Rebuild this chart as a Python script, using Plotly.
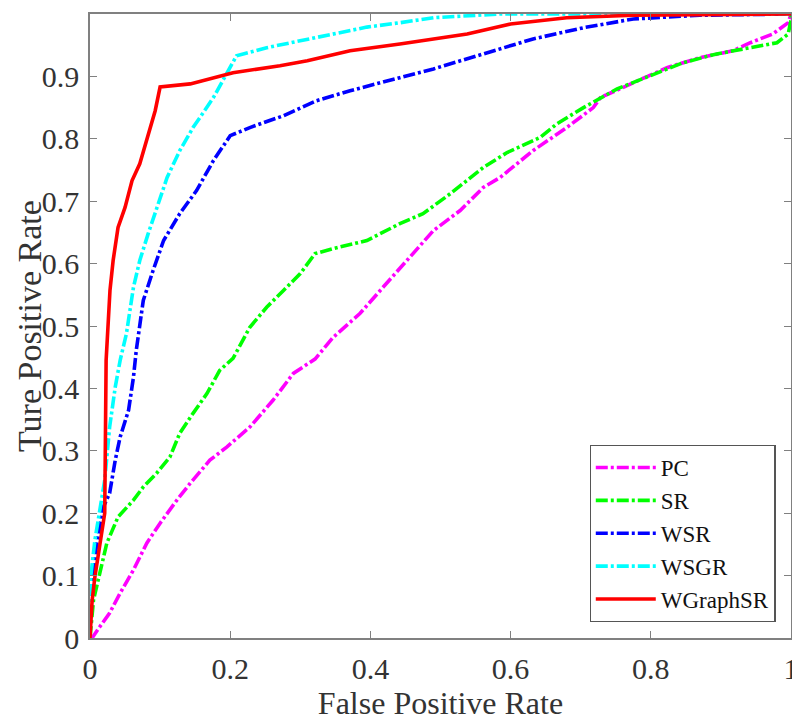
import plotly.graph_objects as go

# ---- data ----
pc_x = [0, 0.003, 0.014, 0.028, 0.043, 0.062, 0.081, 0.1, 0.124, 0.143, 0.171, 0.195, 0.228, 0.261, 0.29, 0.321,
        0.347, 0.385, 0.418, 0.442, 0.49, 0.528, 0.561, 0.585, 0.632, 0.68, 0.718, 0.728, 0.766, 0.823, 0.87,
        0.917, 0.942, 0.974, 0.996, 1.0]
pc_y = [0, 0, 0.018, 0.04, 0.072, 0.109, 0.152, 0.184, 0.221, 0.248, 0.285, 0.306, 0.338, 0.381, 0.424, 0.447,
        0.482, 0.52, 0.562, 0.592, 0.653, 0.685, 0.722, 0.738, 0.781, 0.818, 0.85, 0.866, 0.885, 0.914, 0.93,
        0.941, 0.954, 0.968, 0.986, 1.0]

sr_x = [0, 0.005, 0.014, 0.024, 0.04, 0.062, 0.076, 0.095, 0.114, 0.128, 0.147, 0.167, 0.185, 0.204, 0.228,
        0.252, 0.276, 0.3, 0.321, 0.347, 0.395, 0.442, 0.475, 0.514, 0.561, 0.595, 0.642, 0.666, 0.704, 0.752,
        0.799, 0.846, 0.894, 0.942, 0.98, 0.996, 1.0, 1.0]
sr_y = [0, 0.061, 0.104, 0.152, 0.194, 0.221, 0.242, 0.264, 0.29, 0.328, 0.36, 0.392, 0.429, 0.448, 0.498,
        0.53, 0.557, 0.584, 0.616, 0.624, 0.637, 0.664, 0.68, 0.712, 0.754, 0.778, 0.802, 0.824, 0.85, 0.88,
        0.901, 0.922, 0.936, 0.946, 0.954, 0.968, 0.99, 1.0]

wsr_x = [0, 0, 0.005, 0.009, 0.019, 0.028, 0.036, 0.043, 0.055, 0.062, 0.066, 0.076, 0.09, 0.105, 0.128, 0.152,
         0.176, 0.2, 0.228, 0.276, 0.323, 0.371, 0.442, 0.49, 0.561, 0.632, 0.704, 0.775, 0.87, 1.0]
wsr_y = [0, 0.018, 0.098, 0.146, 0.21, 0.232, 0.285, 0.322, 0.365, 0.418, 0.461, 0.541, 0.589, 0.637, 0.68,
         0.717, 0.765, 0.805, 0.818, 0.837, 0.861, 0.877, 0.898, 0.912, 0.936, 0.96, 0.978, 0.992, 0.998, 1.0]

wsgr_x = [0, 0, 0.001, 0.007, 0.014, 0.021, 0.028, 0.036, 0.043, 0.052, 0.062, 0.071, 0.083, 0.095, 0.11,
          0.128, 0.147, 0.176, 0.195, 0.209, 0.252, 0.323, 0.395, 0.442, 0.49, 0.585, 1.0]
wsgr_y = [0, 0.05, 0.098, 0.157, 0.205, 0.253, 0.338, 0.402, 0.445, 0.488, 0.562, 0.605, 0.648, 0.69, 0.738,
          0.781, 0.818, 0.866, 0.904, 0.933, 0.946, 0.963, 0.979, 0.986, 0.994, 1.0, 1.0]

wg_x = [0, 0.003, 0.007, 0.014, 0.021, 0.023, 0.0285, 0.033, 0.04, 0.05, 0.06, 0.071, 0.083, 0.093, 0.1,
        0.143, 0.204, 0.271, 0.31, 0.347, 0.371, 0.442, 0.538, 0.6, 0.68, 0.775, 1.0]
wg_y = [0, 0.06, 0.098, 0.146, 0.2, 0.445, 0.557, 0.605, 0.658, 0.69, 0.733, 0.76, 0.808, 0.845, 0.883,
        0.888, 0.906, 0.917, 0.925, 0.935, 0.941, 0.952, 0.968, 0.984, 0.994, 0.998, 1.0]

x_ticks = [0, 0.2, 0.4, 0.6, 0.8, 1]
x_tick_labels = ["0", "0.2", "0.4", "0.6", "0.8", "1"]
y_ticks = [0, 0.1, 0.2, 0.3, 0.4, 0.5, 0.6, 0.7, 0.8, 0.9, 1]
y_tick_labels = ["0", "0.1", "0.2", "0.3", "0.4", "0.5", "0.6", "0.7", "0.8", "0.9", "1"]

series = [
    ("PC", pc_x, pc_y, "#ff00ff", "dashdot"),
    ("SR", sr_x, sr_y, "#00ff00", "dashdot"),
    ("WSR", wsr_x, wsr_y, "#0000ff", "dashdot"),
    ("WSGR", wsgr_x, wsgr_y, "#00ffff", "dashdot"),
    ("WGraphSR", wg_x, wg_y, "#ff0000", "solid"),
]

fig = go.Figure()
for name, xs, ys, color, dash in series:
    fig.add_trace(go.Scatter(
        x=xs, y=ys, mode="lines", name=name,
        line=dict(color=color, width=3.6,
                  dash=("12px,3px,3px,3px" if dash == "dashdot" else "solid")),
    ))

font_family = "Times New Roman, Liberation Serif, serif"
text_color = "#333333"
axis_common = dict(
    showline=True, linecolor="#808080", linewidth=1.5, mirror="ticks",
    ticks="inside", ticklen=7, tickcolor="#808080", tickwidth=1.3,
    showgrid=False, zeroline=False, automargin=False,
    tickfont=dict(family=font_family, size=30, color=text_color),
)

# y-axis title placed as a rotated annotation so it sits well left of the tick labels
fig.add_annotation(
    text="Ture Positive Rate", xref="paper", yref="paper", x=-0.087, y=0.5,
    xanchor="center", yanchor="middle", textangle=-90, showarrow=False, borderpad=0,
    font=dict(family=font_family, size=34, color=text_color),
)

# the page body adds an 8px offset, so the figure is sized to fit the window
fig.update_layout(
    width=792, height=714,
    margin=dict(l=82, r=9, t=6, b=84),
    paper_bgcolor="white", plot_bgcolor="white",
    font=dict(family=font_family, color=text_color),
    xaxis=dict(range=[0, 1], tickvals=x_ticks, ticktext=x_tick_labels,
               ticklabelstandoff=3,
               title=dict(text="False Positive Rate", font=dict(family=font_family, size=32, color=text_color),
                          standoff=4),
               **axis_common),
    yaxis=dict(range=[0, 1], tickvals=y_ticks, ticktext=y_tick_labels,
               ticklabelstandoff=3,
               **axis_common),
    legend=dict(x=0.978, xanchor="right", y=0.026, yanchor="bottom",
                bgcolor="white", bordercolor="#555555", borderwidth=1.2,
                font=dict(family=font_family, size=23, color="#111111"),
                tracegroupgap=0, itemwidth=60),
    showlegend=True,
)

fig.write_html("out.html")
